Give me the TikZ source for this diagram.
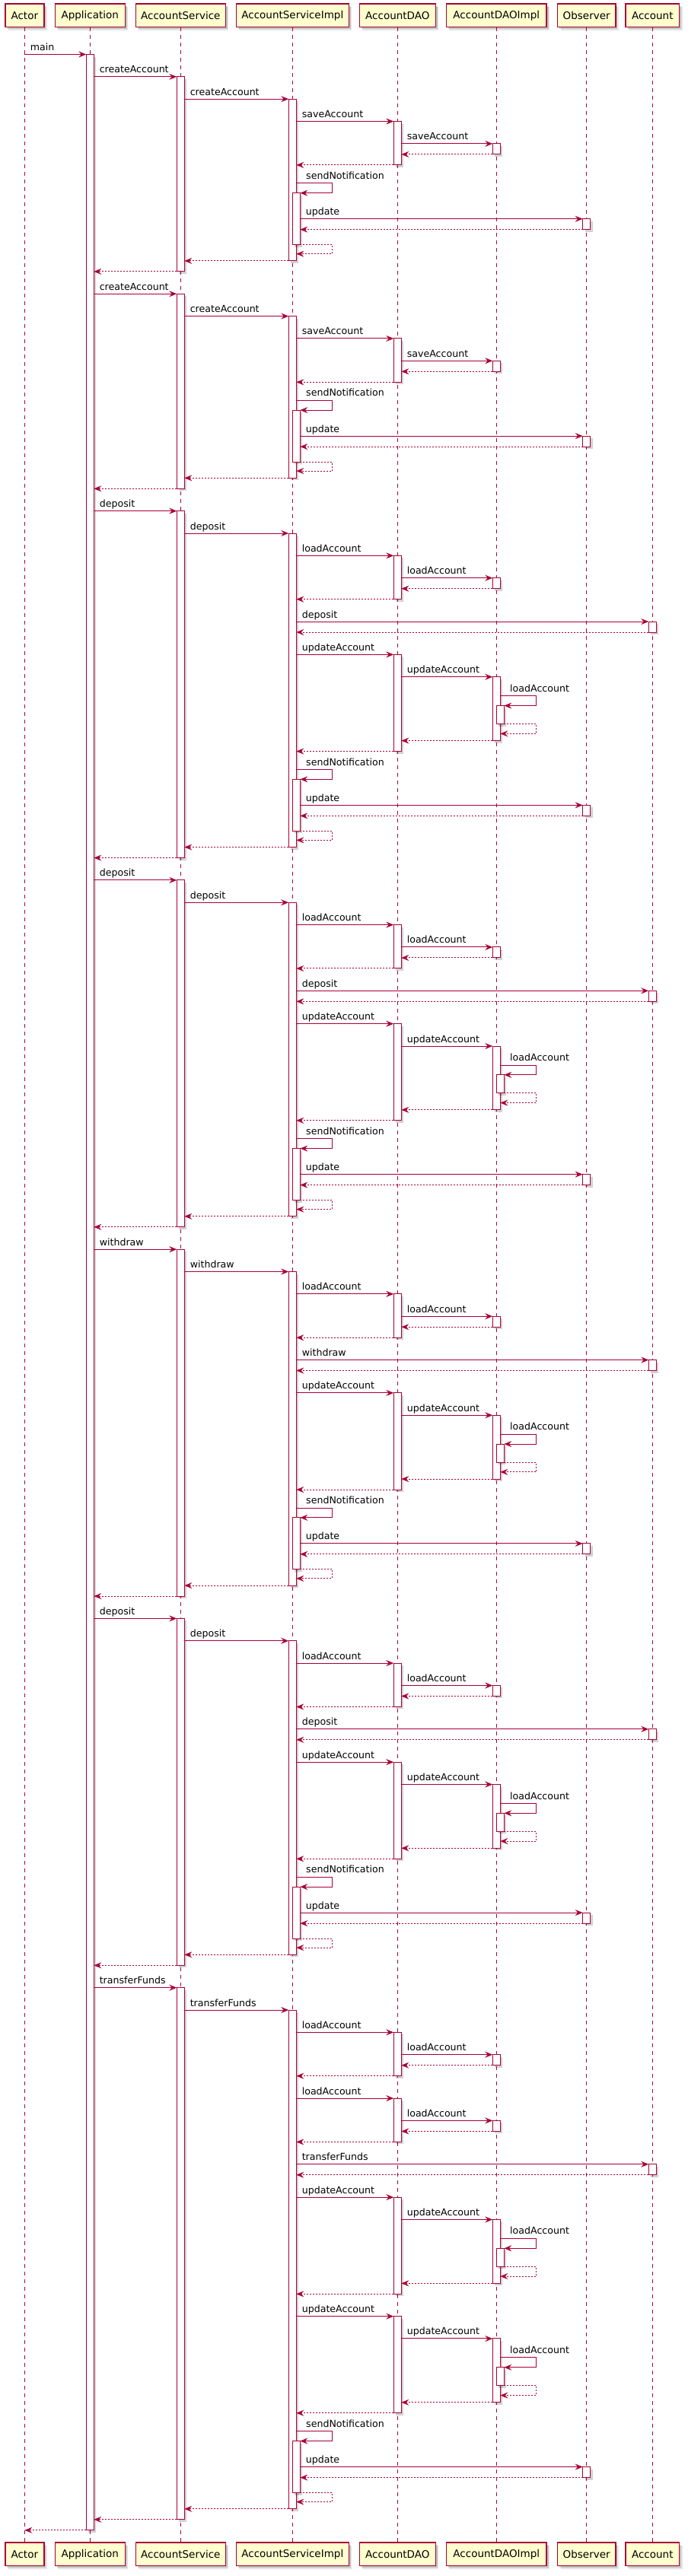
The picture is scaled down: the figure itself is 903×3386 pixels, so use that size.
\documentclass[tikz,border=0pt]{standalone}
\usepackage{fontspec}
\setmainfont{DejaVu Sans}
\usepackage{xcolor}
\usepackage{tikz}
\usetikzlibrary{arrows.meta, calc, shadows}

\definecolor{umlred}{HTML}{A80036}
\definecolor{umlyellow}{HTML}{FEFECE}
\newcommand\headfont{\fontsize{13.5}{16}\selectfont}
\newcommand\msgfont{\fontsize{12.6}{15}\selectfont}
\newcounter{msgno}

% activation bar: lifeline, left edge offset, top, bottom
\newcommand\actbar[4]{%
  \coordinate (bt) at ($(#1 |- 0,#3)+(#2,0)$);
  \coordinate (bb) at ($(#1 |- 0,#4)+(#2+10,0)$);
  \draw[barbox] (bt) rectangle (bb);}
% call: from, dx, to, dx, y, text
\newcommand\callmsg[6]{%
  \stepcounter{msgno}\edef\msgname{m\arabic{msgno}}%
  \coordinate (s) at ($(#1 |- 0,#5)+(#2,0)$);
  \coordinate (t) at ($(#3 |- 0,#5)+(#4,0)$);
  \draw[callline] (s) node[msglabel] (\msgname) {#6} -- (t);}
% return: from, dx, to, dx, y
\newcommand\retmsg[5]{%
  \coordinate (s) at ($(#1 |- 0,#5)+(#2,0)$);
  \coordinate (t) at ($(#3 |- 0,#5)+(#4,0)$);
  \draw[retline] (s) -- (t);}
% self call and its return: lifeline, y out, y in
\newcommand\selfmsg[4]{%
  \stepcounter{msgno}\edef\msgname{m\arabic{msgno}}%
  \coordinate (s) at ($(#1 |- 0,#2)+(5,0)$);
  \coordinate (t) at ($(#1 |- 0,#3)+(10,0)$);
  \draw[callline] (s) node[selflabel] (\msgname) {#4} -- ++(47.5,0) |- (t);}
\newcommand\selfret[3]{%
  \coordinate (s) at ($(#1 |- 0,#2)+(10,0)$);
  \coordinate (t) at ($(#1 |- 0,#3)+(5,0)$);
  \draw[retline] (s) -- ++(42.5,0) |- (t);}

\newcommand\daocall[2]{%
  \actbar{hDao}{-5}{#1}{#1+57.35}
  \actbar{hDaoImpl}{-5}{#1+29.35}{#1+43.35}
  \callmsg{hSvcImpl}{5}{hDao}{-5}{#1}{#2}
  \callmsg{hDao}{5}{hDaoImpl}{-5}{#1+29.35}{#2}
  \retmsg{hDaoImpl}{-5}{hDao}{5}{#1+43.35}
  \retmsg{hDao}{-5}{hSvcImpl}{5}{#1+57.35}}
\newcommand\acccall[2]{%
  \actbar{hAcc}{-5}{#1}{#1+14}
  \callmsg{hSvcImpl}{5}{hAcc}{-5}{#1}{#2}
  \retmsg{hAcc}{-5}{hSvcImpl}{5}{#1+14}}
\newcommand\updcall[1]{%
  \actbar{hDao}{-5}{#1}{#1+127.15}
  \actbar{hDaoImpl}{-5}{#1+29.35}{#1+113.15}
  \actbar{hDaoImpl}{0}{#1+67.15}{#1+91.15}
  \callmsg{hSvcImpl}{5}{hDao}{-5}{#1}{updateAccount}
  \callmsg{hDao}{5}{hDaoImpl}{-5}{#1+29.35}{updateAccount}
  \selfmsg{hDaoImpl}{#1+54.35}{#1+67.15}{loadAccount}
  \selfret{hDaoImpl}{#1+91.15}{#1+103.95}
  \retmsg{hDaoImpl}{-5}{hDao}{5}{#1+113.15}
  \retmsg{hDao}{-5}{hSvcImpl}{5}{#1+127.15}}
\newcommand\notify[1]{%
  \actbar{hSvcImpl}{0}{#1+12.8}{#1+80.8}
  \actbar{hObs}{-5}{#1+46.8}{#1+60.8}
  \selfmsg{hSvcImpl}{#1}{#1+12.8}{sendNotification}
  \callmsg{hSvcImpl}{10}{hObs}{-5}{#1+46.8}{update}
  \retmsg{hObs}{-5}{hSvcImpl}{10}{#1+60.8}
  \selfret{hSvcImpl}{#1+80.8}{#1+92.8}}

\newcommand\createblock[1]{%
  \actbar{hSvc}{-5}{#1}{#1+256.05}
  \actbar{hSvcImpl}{-5}{#1+29.35}{#1+242.05}
  \callmsg{hApp}{5}{hSvc}{-5}{#1}{createAccount}
  \callmsg{hSvc}{5}{hSvcImpl}{-5}{#1+29.35}{createAccount}
  \daocall{#1+58.7}{saveAccount}
  \notify{#1+140.05}
  \retmsg{hSvcImpl}{-5}{hSvc}{5}{#1+242.05}
  \retmsg{hSvc}{-5}{hApp}{5}{#1+256.05}}
\newcommand\moneyblock[2]{%
  \actbar{hSvc}{-5}{#1}{#1+455.9}
  \actbar{hSvcImpl}{-5}{#1+29.35}{#1+441.9}
  \callmsg{hApp}{5}{hSvc}{-5}{#1}{#2}
  \callmsg{hSvc}{5}{hSvcImpl}{-5}{#1+29.35}{#2}
  \daocall{#1+58.7}{loadAccount}
  \acccall{#1+145.4}{#2}
  \updcall{#1+188.75}
  \notify{#1+339.9}
  \retmsg{hSvcImpl}{-5}{hSvc}{5}{#1+441.9}
  \retmsg{hSvc}{-5}{hApp}{5}{#1+455.9}}

\begin{document}
\begin{tikzpicture}[x=1pt, y=-1pt,
  partbox/.style={draw=umlred, fill=umlyellow, line width=1.5pt, minimum height=30.5pt,
    inner sep=0pt, font=\headfont,
    drop shadow={shadow xshift=4pt, shadow yshift=-4pt, fill=black, opacity=0.1},
    drop shadow={shadow xshift=2.5pt, shadow yshift=-2.5pt, fill=black, opacity=0.15}},
  lifeline/.style={umlred, line width=1pt, dash pattern=on 5pt off 5pt},
  barbox/.style={draw=umlred, fill=white, line width=1pt,
    drop shadow={shadow xshift=3pt, shadow yshift=-3pt, fill=black, opacity=0.18}},
  callline/.style={umlred, line width=1pt, -{Stealth[length=10pt, width=8pt, inset=3.5pt]}},
  retline/.style={callline, dash pattern=on 2pt off 2pt},
  msglabel/.style={anchor=base west, xshift=7pt, yshift=5pt, inner sep=0pt, text=black, font=\msgfont},
  selflabel/.style={anchor=base west, xshift=12.4pt, yshift=5.5pt, inner sep=0pt, text=black, font=\msgfont}]
\fill[white] (0,0) rectangle (903,3386);
\useasboundingbox (0,0) rectangle (903,3386);

% participants, top and bottom
\foreach \p/\x/\w/\t in {Actor/32.3/51/Actor, App/118.3/92/Application,
    Svc/237.3/118/AccountService, SvcImpl/384.3/148/AccountServiceImpl,
    Dao/522.3/100/AccountDAO, DaoImpl/652.3/131.7/AccountDAOImpl,
    Obs/770.7/76.4/Observer, Acc/857.3/70.7/Account}{
  \node[partbox, minimum width=\w] (h\p) at (\x,20.3) {\t};
  \node[partbox, minimum width=\w] (f\p) at (\x,3357.3) {\t};
}
\foreach \p in {Actor,App,Svc,SvcImpl,Dao,DaoImpl,Obs,Acc}
  \draw[lifeline] (h\p.south) -- (f\p.north);

\actbar{hApp}{-5}{71.5}{3325.75}
\callmsg{hActor}{0}{hApp}{-5}{71.5}{main}

\createblock{100.85}
\createblock{386.25}
\moneyblock{671.65}{deposit}
\moneyblock{1156.9}{deposit}
\moneyblock{1642.15}{withdraw}
\moneyblock{2127.4}{deposit}

% transferFunds
\actbar{hSvc}{-5}{2612.65}{3311.75}
\actbar{hSvcImpl}{-5}{2642}{3297.75}
\callmsg{hApp}{5}{hSvc}{-5}{2612.65}{transferFunds}
\callmsg{hSvc}{5}{hSvcImpl}{-5}{2642}{transferFunds}
\daocall{2671.35}{loadAccount}
\daocall{2758.05}{loadAccount}
\acccall{2844.75}{transferFunds}
\updcall{2888.1}
\updcall{3044.6}
\notify{3195.75}
\retmsg{hSvcImpl}{-5}{hSvc}{5}{3297.75}
\retmsg{hSvc}{-5}{hApp}{5}{3311.75}
\retmsg{hApp}{-5}{hActor}{0}{3325.75}
\end{tikzpicture}
\end{document}
